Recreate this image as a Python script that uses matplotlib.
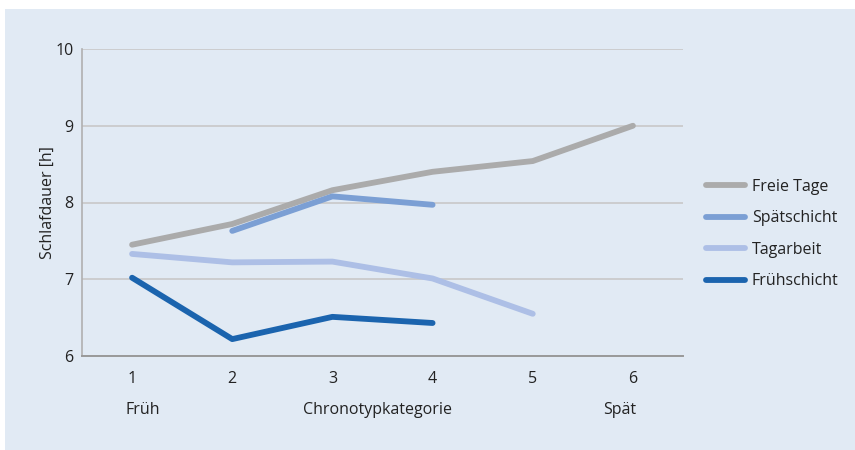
import matplotlib
matplotlib.use("Agg")
import matplotlib.pyplot as plt
from matplotlib.patches import Rectangle

plt.rcParams['font.family'] = ['Open Sans', 'DejaVu Sans']

# ---- data ----
categories = [1, 2, 3, 4, 5, 6]
freie_tage = [7.45, 7.72, 8.16, 8.40, 8.54, 9.00]
spaet_x = [2, 3, 4]
spaetschicht = [7.63, 8.08, 7.97]
tag_x = [1, 2, 3, 4, 5]
tagarbeit = [7.33, 7.22, 7.23, 7.01, 6.55]
frueh_x = [1, 2, 3, 4]
fruehschicht = [7.02, 6.22, 6.51, 6.43]
y_ticks = [6, 7, 8, 9, 10]

BG = "#e1eaf4"
INK = "#222222"
FS = 11.5
W, H = 855, 450

fig = plt.figure(figsize=(W / 100, H / 100), dpi=100)
fig.patch.set_facecolor("white")
fig.patches.append(Rectangle((5 / W, 0), 1, 1 - 9 / H, transform=fig.transFigure,
                             facecolor=BG, edgecolor="none", zorder=-10))

ax = fig.add_axes([82 / W, 1 - 356 / H, (683 - 82) / W, (356 - 49) / H])
ax.set_facecolor("none")
ax.set_xlim(0.5, 6.5)
ax.set_ylim(6, 10)

ax.plot(categories, freie_tage, color="#ababab", lw=4.2, solid_capstyle="round",
        label="Freie Tage")
ax.plot(spaet_x, spaetschicht, color="#7b9fd4", lw=4.2, solid_capstyle="round",
        label="Spätschicht")
ax.plot(tag_x, tagarbeit, color="#adbfe6", lw=4.2, solid_capstyle="round",
        label="Tagarbeit")
ax.plot(frueh_x, fruehschicht, color="#1b64ae", lw=4.2, solid_capstyle="round",
        label="Frühschicht")

ax.set_yticks(y_ticks)
ax.set_xticks(categories)
ax.yaxis.grid(True, color="#c8c8c8", lw=1.2)
ax.set_axisbelow(True)
for s in ["top", "right"]:
    ax.spines[s].set_visible(False)
ax.spines["left"].set_color("#b0b0b0")
ax.spines["left"].set_linewidth(1.2)
ax.spines["bottom"].set_color("#999999")
ax.spines["bottom"].set_linewidth(1.4)
ax.tick_params(length=0, labelsize=FS, colors=INK, pad=11)
ax.tick_params(axis="y", pad=6)

ax.set_ylabel("Schlafdauer [h]", fontsize=FS, color=INK, labelpad=0)

fig.text(143 / W, 1 - 410 / H, "Früh", fontsize=FS, color=INK, ha="center", va="center")
fig.text(377 / W, 1 - 410 / H, "Chronotypkategorie", fontsize=FS, color=INK,
         ha="center", va="center")
fig.text(620 / W, 1 - 410 / H, "Spät", fontsize=FS, color=INK, ha="center", va="center")

leg = ax.legend(loc="center left", bbox_to_anchor=(692 / W, 1 - 234 / H),
                bbox_transform=fig.transFigure, frameon=False, fontsize=FS,
                handlelength=2.4, handletextpad=0.45, labelspacing=0.98)
for t in leg.get_texts():
    t.set_color(INK)

fig.savefig("out.png", dpi=100)
